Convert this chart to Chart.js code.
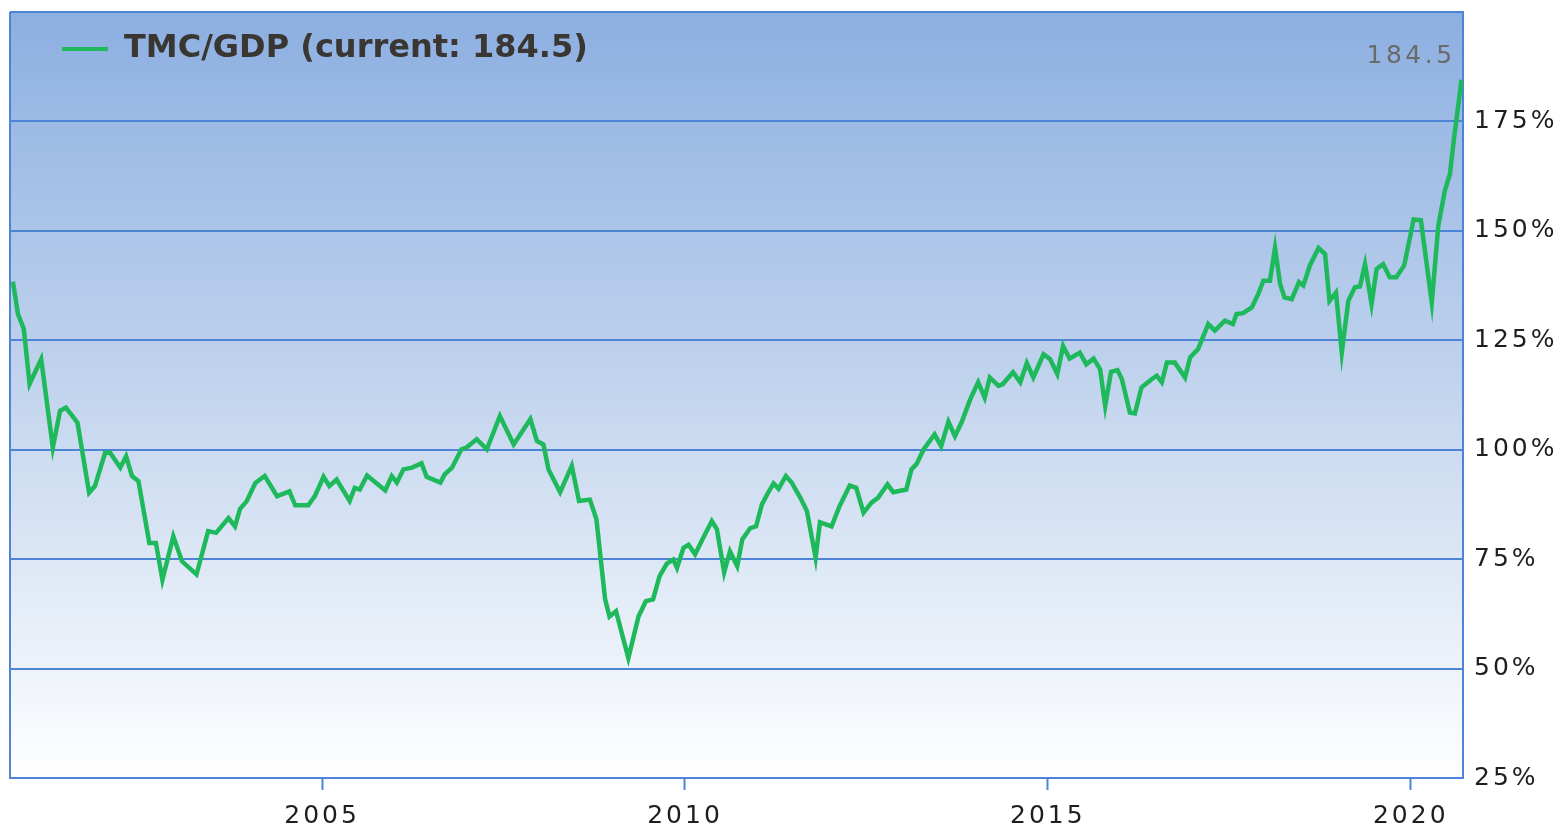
<!DOCTYPE html>
<html>
<head>
<meta charset="utf-8">
<title>TMC/GDP</title>
<script src="https://cdn.jsdelivr.net/npm/chart.js@4.4.1/dist/chart.umd.min.js"></script>
<style>
  html, body { margin: 0; padding: 0; background: #ffffff; }
  #wrap { width: 1561px; height: 828px; position: relative; }
</style>
</head>
<body>
<div id="wrap"><canvas id="ratio-chart"></canvas></div>
<script>
// decimal years
const dates = [
  2000.74, 2000.81, 2000.89, 2000.97, 2001.13, 2001.29, 2001.39, 2001.47, 2001.63, 2001.79,
  2001.87, 2002.01, 2002.08, 2002.22, 2002.30, 2002.38, 2002.47, 2002.62, 2002.71, 2002.80,
  2002.95, 2003.07, 2003.27, 2003.43, 2003.54, 2003.71, 2003.80, 2003.87, 2003.96, 2004.08,
  2004.21, 2004.38, 2004.55, 2004.63, 2004.81, 2004.90, 2005.02, 2005.10, 2005.20, 2005.38,
  2005.45, 2005.52, 2005.62, 2005.87, 2005.96, 2006.03, 2006.12, 2006.24, 2006.37, 2006.44,
  2006.63, 2006.69, 2006.79, 2006.92, 2006.99, 2007.13, 2007.27, 2007.45, 2007.64, 2007.87,
  2007.96, 2008.05, 2008.12, 2008.28, 2008.44, 2008.54, 2008.69, 2008.78, 2008.83, 2008.90,
  2008.96, 2009.05, 2009.22, 2009.36, 2009.46, 2009.56, 2009.65, 2009.75, 2009.84, 2009.89,
  2009.98, 2010.05, 2010.14, 2010.24, 2010.37, 2010.44, 2010.54, 2010.62, 2010.72, 2010.79,
  2010.90, 2010.98, 2011.06, 2011.14, 2011.22, 2011.29, 2011.39, 2011.47, 2011.59, 2011.68,
  2011.80, 2011.86, 2012.02, 2012.13, 2012.27, 2012.36, 2012.46, 2012.57, 2012.66, 2012.79,
  2012.87, 2013.05, 2013.12, 2013.19, 2013.29, 2013.44, 2013.53, 2013.63, 2013.72, 2013.81,
  2013.93, 2014.04, 2014.13, 2014.20, 2014.32, 2014.38, 2014.52, 2014.62, 2014.71, 2014.80,
  2014.94, 2015.03, 2015.13, 2015.21, 2015.30, 2015.44, 2015.53, 2015.63, 2015.72, 2015.79,
  2015.87, 2015.96, 2016.02, 2016.13, 2016.20, 2016.29, 2016.43, 2016.50, 2016.57, 2016.64,
  2016.75, 2016.89, 2016.96, 2017.07, 2017.21, 2017.30, 2017.44, 2017.55, 2017.60, 2017.69,
  2017.81, 2017.90, 2017.97, 2018.06, 2018.13, 2018.20, 2018.26, 2018.36, 2018.46, 2018.52,
  2018.61, 2018.73, 2018.82, 2018.88, 2018.97, 2019.05, 2019.14, 2019.23, 2019.30, 2019.37,
  2019.46, 2019.53, 2019.62, 2019.71, 2019.80, 2019.91, 2020.04, 2020.14, 2020.29, 2020.38,
  2020.47, 2020.54, 2020.59, 2020.70
];

// total market cap / GDP, in %
const ratios = [
  138.4, 131.0, 127.6, 115.0, 120.7, 100.5, 108.9, 109.6, 106.2, 90.2,
  91.7, 99.3, 99.3, 95.9, 98.5, 94.0, 92.8, 78.7, 78.7, 70.3,
  80.2, 74.5, 71.5, 81.4, 81.0, 84.4, 82.5, 86.5, 88.2, 92.4,
  94.0, 89.4, 90.5, 87.3, 87.3, 89.4, 93.8, 91.7, 93.2, 88.3,
  91.3, 90.9, 94.1, 90.7, 94.0, 92.5, 95.5, 95.9, 96.9, 93.8,
  92.5, 94.4, 95.9, 100.1, 100.5, 102.4, 100.1, 107.7, 101.2, 107.0,
  102.0, 101.2, 95.5, 90.3, 96.3, 88.3, 88.6, 84.1, 76.4, 65.8,
  61.9, 63.1, 52.4, 61.9, 65.4, 65.8, 71.1, 74.0, 74.9, 73.0,
  77.6, 78.3, 76.1, 79.5, 83.7, 81.8, 72.0, 76.8, 73.4, 79.5,
  82.1, 82.5, 87.5, 90.0, 92.3, 91.1, 94.0, 92.5, 89.0, 86.0,
  75.3, 83.4, 82.5, 87.1, 91.8, 91.3, 85.6, 87.9, 89.0, 92.1,
  90.3, 90.9, 95.5, 96.7, 100.1, 103.5, 100.8, 106.4, 103.1, 106.2,
  111.5, 115.4, 111.9, 116.5, 114.6, 115.0, 117.7, 115.4, 119.8, 116.5,
  121.8, 120.7, 117.3, 123.7, 120.8, 122.2, 119.5, 120.8, 118.4, 110.0,
  117.8, 118.2, 116.1, 108.5, 108.3, 114.2, 116.1, 116.9, 115.4, 119.9,
  119.9, 116.5, 121.1, 123.0, 128.7, 127.2, 129.5, 128.7, 131.0, 131.2,
  132.5, 135.6, 138.6, 138.6, 146.1, 137.9, 134.8, 134.4, 138.3, 137.5,
  142.1, 146.1, 144.7, 134.0, 135.9, 122.2, 134.0, 137.1, 137.3, 142.4,
  133.3, 141.3, 142.4, 139.4, 139.4, 142.1, 152.6, 152.4, 133.6, 151.2,
  159.2, 163.0, 170.3, 184.5
];

const yTicks = [25, 50, 75, 100, 125, 150, 175, 200];
const xTicks = [2005, 2010, 2015, 2020];
const currentValue = ratios[ratios.length - 1];

const LINE_GREEN = '#1db95b';
const GRID_BLUE  = '#4d84d6';
const FONT = 'DejaVu Sans';

const chartBackdrop = {
  id: 'chartBackdrop',
  beforeDraw(chart) {
    const { ctx, chartArea: a } = chart;
    ctx.letterSpacing = '0px';
    const g = ctx.createLinearGradient(0, a.top, 0, a.bottom);
    g.addColorStop(0, '#8cafe1');
    g.addColorStop(0.5, '#c3d5ee');
    g.addColorStop(1, '#ffffff');
    ctx.save();
    ctx.fillStyle = g;
    ctx.fillRect(a.left, a.top, a.right - a.left, a.bottom - a.top);
    ctx.restore();
  },
  afterLayout(chart) {
    const lg = chart.legend;
    if (lg) { lg.left = chart.chartArea.left + 32; lg.top = chart.chartArea.top + 1; }
  },
  afterDatasetsDraw(chart) {
    const { ctx, chartArea: a } = chart;
    ctx.save();
    ctx.strokeStyle = GRID_BLUE;
    ctx.lineWidth = 2;
    ctx.beginPath();
    ctx.moveTo(a.left, a.top);
    ctx.lineTo(a.left, a.bottom);
    ctx.stroke();
    ctx.restore();
    // tick labels (z: 1) get the spaced-out look
    ctx.letterSpacing = '3px';
  },
  afterDraw(chart) {
    const { ctx } = chart;
    const pts = chart.getDatasetMeta(0).data;
    const last = pts[pts.length - 1];
    ctx.save();
    ctx.letterSpacing = '3.5px';
    ctx.font = `25px "${FONT}"`;
    ctx.fillStyle = '#6a6a6a';
    ctx.textAlign = 'right';
    ctx.textBaseline = 'middle';
    ctx.fillText(currentValue.toFixed(1), last.x - 6, last.y - 23);
    ctx.restore();
    ctx.letterSpacing = '0px';
  }
};

const ctx = document.getElementById('ratio-chart').getContext('2d');
new Chart(ctx, {
  type: 'line',
  data: {
    datasets: [{
      label: `TMC/GDP (current: ${currentValue.toFixed(1)})`,
      data: dates.map((d, i) => ({ x: d, y: ratios[i] })),
      borderColor: LINE_GREEN,
      backgroundColor: LINE_GREEN,
      borderWidth: 4.5,
      pointRadius: 0,
      tension: 0,
      fill: false
    }]
  },
  options: {
    responsive: true,
    maintainAspectRatio: false,
    animation: false,
    layout: { padding: { left: 10, top: 12, right: 0, bottom: 0 } },
    plugins: {
      tooltip: { enabled: false },
      legend: {
        position: 'chartArea',
        align: 'start',
        labels: {
          boxWidth: 46,
          boxHeight: 4,
          padding: 20,
          color: '#3a3631',
          font: { family: FONT, size: 32, weight: 'bold' },
          generateLabels: chart =>
            Chart.defaults.plugins.legend.labels.generateLabels(chart).map(l => ({ ...l, lineWidth: 0 }))
        }
      }
    },
    scales: {
      x: {
        type: 'linear',
        min: 2000.70,
        max: 2020.72,
        afterFit: s => { s.height = 50; s.paddingLeft = 0; s.paddingRight = 0; },
        afterBuildTicks: s => { s.ticks = xTicks.map(v => ({ value: v })); },
        grid: {
          drawOnChartArea: false,
          drawTicks: true,
          tickLength: 12,
          tickWidth: 2,
          tickColor: GRID_BLUE,
          color: GRID_BLUE
        },
        border: { display: true, color: GRID_BLUE, width: 2 },
        ticks: {
          z: 1,
          padding: 11,
          maxRotation: 0,
          color: '#1e1e1e',
          font: { family: FONT, size: 25 },
          callback: v => String(v)
        }
      },
      y: {
        position: 'right',
        min: 25,
        max: 200,
        afterFit: s => { s.width = 98; s.paddingTop = 0; s.paddingBottom = 0; },
        afterBuildTicks: s => { s.ticks = yTicks.map(v => ({ value: v })); },
        grid: { drawTicks: false, color: GRID_BLUE, lineWidth: 2 },
        border: { display: true, color: GRID_BLUE, width: 2 },
        ticks: {
          z: 1,
          padding: 11,
          color: '#1e1e1e',
          font: { family: FONT, size: 25 },
          callback: v => (v === 200 ? '' : v + '%')
        }
      }
    }
  },
  plugins: [chartBackdrop]
});
</script>
</body>
</html>
